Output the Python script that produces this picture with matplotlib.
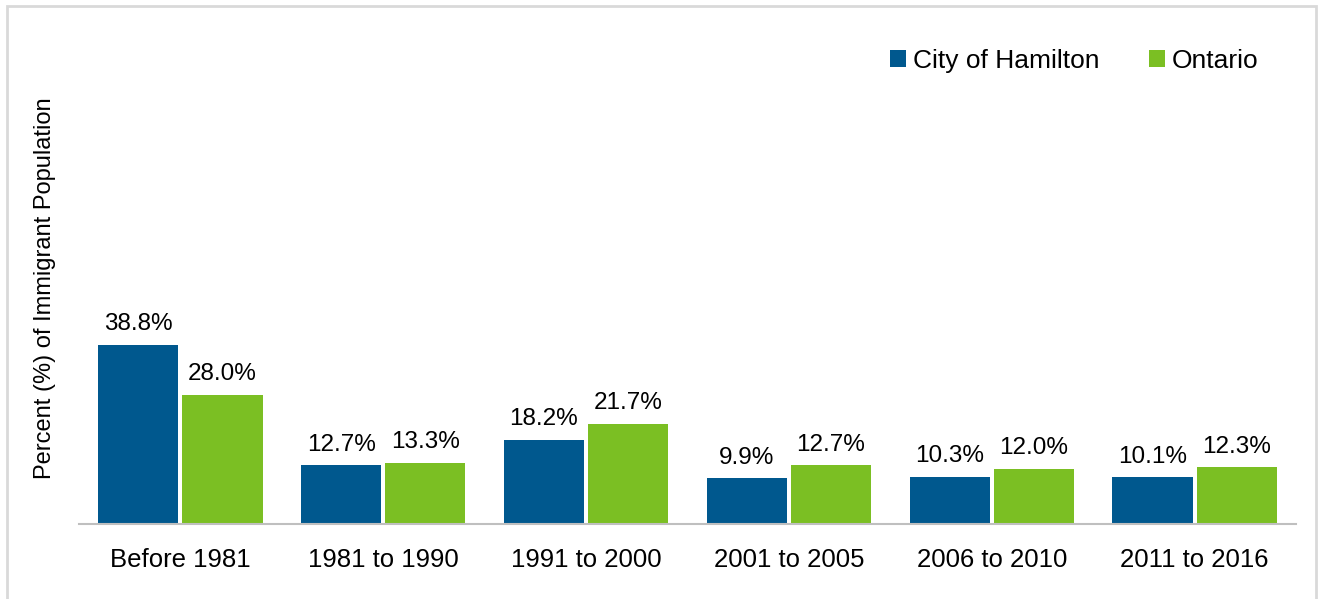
import matplotlib.pyplot as plt
import numpy as np
from matplotlib.patches import Rectangle

periods = ["Before 1981", "1981 to 1990", "1991 to 2000",
           "2001 to 2005", "2006 to 2010", "2011 to 2016"]
hamilton = [38.8, 12.7, 18.2, 9.9, 10.3, 10.1]
ontario = [28.0, 13.3, 21.7, 12.7, 12.0, 12.3]

BLUE = "#00588e"
GREEN = "#7bbf23"

plt.rcParams['font.family'] = ['Liberation Sans', 'DejaVu Sans']

W, H = 1325, 599
fig = plt.figure(figsize=(W / 100, H / 100), dpi=100)

# light grey frame around the chart
fig.patches.append(Rectangle((7 / W, -0.05), (1316 - 7) / W, 1.05 - 6 / H,
                             transform=fig.transFigure, fill=False,
                             edgecolor="#d9d9d9", linewidth=2))

ax = fig.add_axes([79 / W, (H - 524) / H, 1217 / W, 207.5 / H])

x = np.arange(len(periods))
w = 0.395
b1 = ax.bar(x - w / 2 - 0.01, hamilton, w, color=BLUE, label="City of Hamilton")
b2 = ax.bar(x + w / 2 + 0.01, ontario, w, color=GREEN, label="Ontario")

for bars in (b1, b2):
    ax.bar_label(bars, labels=[f"{v.get_height():.1f}%" for v in bars],
                 padding=7, fontsize=17.5)

ax.set_xlim(-0.5, len(periods) - 0.5)
ax.set_ylim(0, 45)
ax.set_xticks(x)
ax.set_xticklabels(periods, fontsize=18.5)
ax.set_yticks([])
ax.tick_params(axis="x", length=0, pad=17)
for s in ("top", "right", "left"):
    ax.spines[s].set_visible(False)
ax.spines["bottom"].set_color("#bfbfbf")
ax.spines["bottom"].set_linewidth(1.5)

fig.text(45 / W, 1 - 288 / H, "Percent (%) of Immigrant Population",
         rotation=90, ha="center", va="center", fontsize=17)

fig.legend(loc="center right", bbox_to_anchor=(1282 / W, 1 - 61 / H),
           ncol=2, frameon=False, fontsize=19, handlelength=0.6,
           handleheight=0.6, handletextpad=0.25, columnspacing=1.9)

fig.savefig("out.png", dpi=100)
